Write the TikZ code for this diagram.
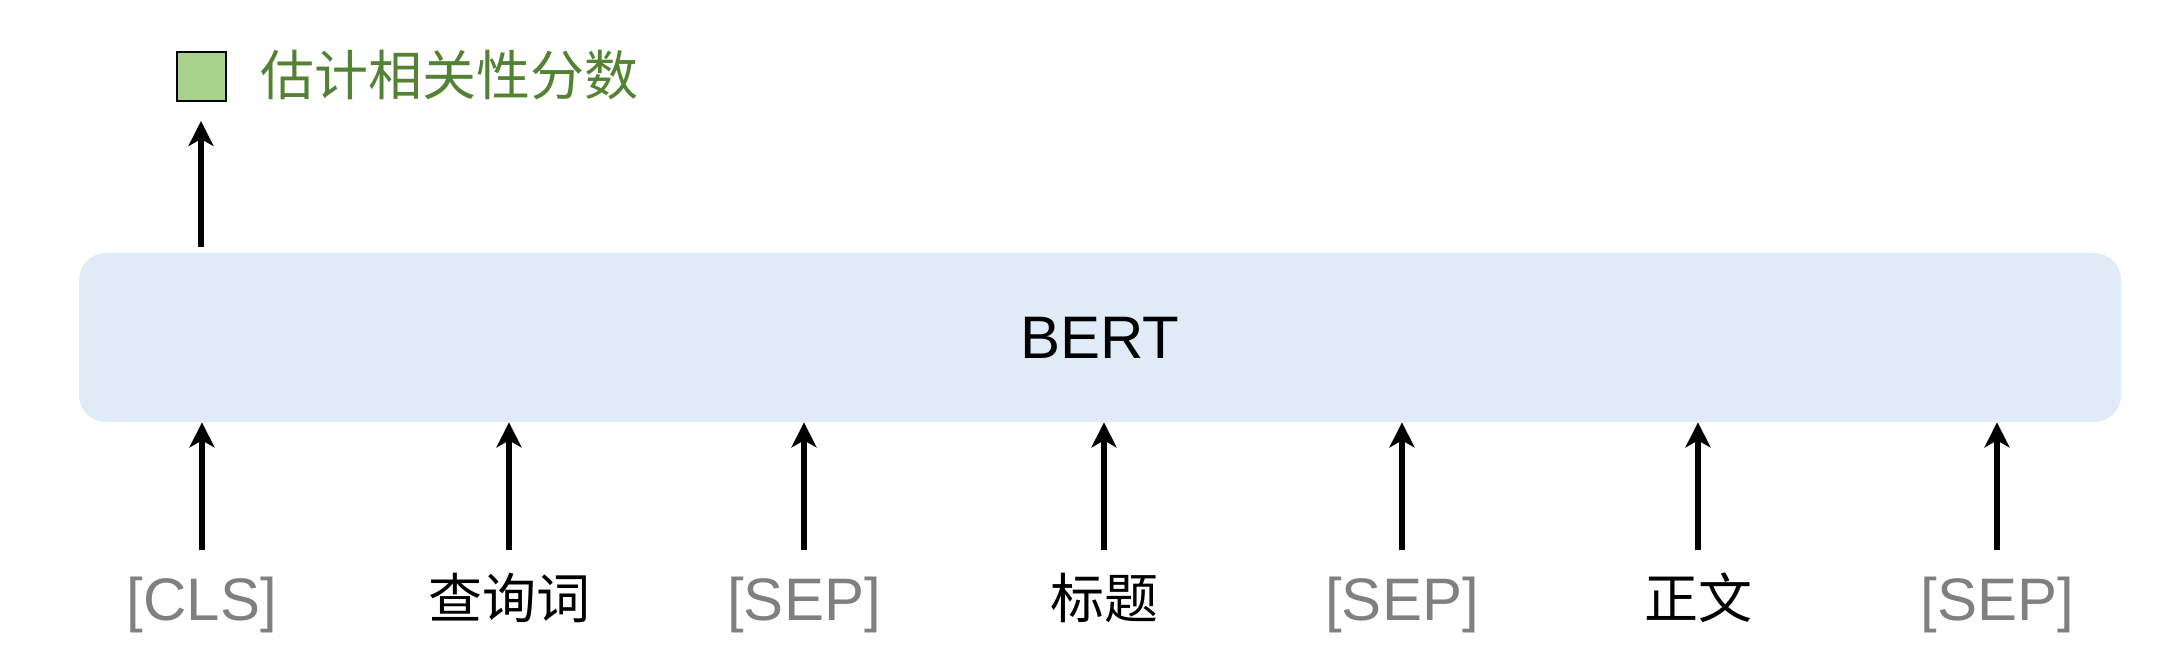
\documentclass[tikz,border=0pt]{standalone}
\usepackage{fontspec}
\setmainfont{Liberation Sans}
\newfontfamily\cjk{Noto Sans CJK SC}
\usetikzlibrary{arrows.meta}
\definecolor{boxblue}{HTML}{DFEBF7}
\definecolor{sqgreen}{HTML}{A9D18E}
\definecolor{txtgreen}{HTML}{548235}
\definecolor{tokgray}{HTML}{808080}
\tikzset{
  arr/.style={line width=2.6pt, -{Stealth[length=12.5pt, width=12.5pt, inset=3.5pt]}},
  tok/.style={anchor=base, inner sep=0pt, text=tokgray, font=\fontsize{30pt}{36pt}\selectfont},
  cjktok/.style={anchor=base, inner sep=0pt, text=black, font=\cjk\fontsize{27pt}{34pt}\selectfont},
}
\begin{document}
\begin{tikzpicture}[x=0.5pt, y=-0.5pt]
\useasboundingbox (0,0) rectangle (2174,662);
% BERT box
\node[fill=boxblue, rounded corners=13.5pt, minimum width=1021pt, minimum height=84.5pt,
      inner sep=0pt, font=\fontsize{30pt}{36pt}\selectfont] (bert) at (1100,337.5) {BERT};
% output
\node[draw=black, line width=1pt, fill=sqgreen, minimum width=24.5pt, minimum height=24.5pt, inner sep=0pt] (sq) at (201,77) {};
\node[anchor=base west, inner sep=0pt, text=txtgreen, font=\cjk\fontsize{27pt}{34pt}\selectfont] (score) at (260,96) {估计相关性分数};
\coordinate (ot) at (201,121);
\coordinate (ob) at (201,247);
\draw[arr] (ob) -- (ot);
% tokens
\node[tok] (l1) at (202,620) {[CLS]};
\node[cjktok] (l2) at (509,618) {查询词};
\node[tok] (l3) at (804,620) {[SEP]};
\node[cjktok] (l4) at (1104,618) {标题};
\node[tok] (l5) at (1402,620) {[SEP]};
\node[cjktok] (l6) at (1698,618) {正文};
\node[tok] (l7) at (1997,620) {[SEP]};
\foreach \i/\x in {1/202,2/509,3/804,4/1104,5/1402,6/1698,7/1997}{
  \coordinate (t\i) at (\x,550);
  \draw[arr] (t\i) -- (t\i |- bert.south);
}
\end{tikzpicture}
\end{document}
